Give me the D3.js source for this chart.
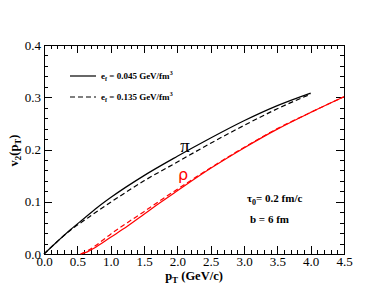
<!DOCTYPE html>
<html>
<head>
<meta charset="utf-8">
<script src="https://cdn.jsdelivr.net/npm/d3@7"></script>
<style>
  body { margin: 0; background: #fff; }
  svg text { font-family: "Liberation Serif", "Times New Roman", serif; }
</style>
</head>
<body>
<script>
// v2(pT) curves
var piPt     = [0.0, 0.2, 0.4, 0.6, 0.8, 1.0, 1.5, 2.0, 2.5, 3.0, 3.5, 4.0];
var piSolid  = [0.0, 0.024, 0.047, 0.068, 0.089, 0.108, 0.150, 0.187, 0.222, 0.255, 0.284, 0.308];
var piDashed = [0.0, 0.024, 0.046, 0.064, 0.082, 0.099, 0.140, 0.176, 0.212, 0.246, 0.278, 0.306];

var rhoPt     = [0.55, 0.65, 0.75, 1.0, 1.25, 1.5, 1.75, 2.0, 2.5, 3.0, 3.5, 4.0, 4.5];
var rhoSolid  = [0.0, 0.004, 0.011, 0.032, 0.053, 0.076, 0.099, 0.121, 0.164, 0.203, 0.239, 0.271, 0.301];
var rhoDashed = [0.0, 0.006, 0.014, 0.038, 0.060, 0.081, 0.103, 0.124, 0.165, 0.204, 0.240, 0.271, 0.301];

var xTicks = [0, 0.5, 1, 1.5, 2, 2.5, 3, 3.5, 4, 4.5];
var yTicks = [0, 0.1, 0.2, 0.3, 0.4];

var W = 387, H = 299,
    m = {left: 44, right: 43, top: 45, bottom: 45};

var svg = d3.select("body").append("svg")
    .attr("width", W).attr("height", H);

var x = d3.scaleLinear().domain([0, 4.5]).range([m.left, W - m.right]),
    y = d3.scaleLinear().domain([0, 0.4]).range([H - m.bottom, m.top]);

var xMinor = d3.range(0, 4.501, 0.1),
    yMinor = d3.range(0, 0.4001, 0.02);

function isMajor(v, step) {
  return Math.abs(v / step - Math.round(v / step)) < 1e-6;
}

// inward ticks on all four sides
var tg = svg.append("g").attr("stroke", "#000").attr("stroke-width", 1);
xMinor.forEach(function(v) {
  var len = isMajor(v, 0.5) ? 8 : 4, px = Math.round(x(v)) + 0.5;
  tg.append("line").attr("x1", px).attr("x2", px).attr("y1", y(0)).attr("y2", y(0) - len);
  tg.append("line").attr("x1", px).attr("x2", px).attr("y1", y(0.4)).attr("y2", y(0.4) + len);
});
yMinor.forEach(function(v) {
  var len = isMajor(v, 0.1) ? 8 : 4, py = Math.round(y(v)) + 0.5;
  tg.append("line").attr("y1", py).attr("y2", py).attr("x1", x(0)).attr("x2", x(0) + len);
  tg.append("line").attr("y1", py).attr("y2", py).attr("x1", x(4.5)).attr("x2", x(4.5) - len);
});

// tick labels
var gx = svg.append("g").attr("transform", "translate(0," + y(0) + ")")
    .call(d3.axisBottom(x).tickValues(xTicks).tickSize(0).tickPadding(3).tickFormat(d3.format(".1f")));
var gy = svg.append("g").attr("transform", "translate(" + x(0) + ",0)")
    .call(d3.axisLeft(y).tickValues(yTicks).tickSize(0).tickPadding(3).tickFormat(d3.format(".1f")));
[gx, gy].forEach(function(g) {
  g.select(".domain").remove();
  g.selectAll("text").attr("fill", "#000")
      .style("font-size", "13px")
      .style("font-family", "'Liberation Serif', serif");
});

svg.append("rect")
    .attr("x", Math.round(x(0)) + 0.5).attr("y", Math.round(y(0.4)) + 0.5)
    .attr("width", Math.round(x(4.5) - x(0))).attr("height", Math.round(y(0) - y(0.4)))
    .attr("fill", "none").attr("stroke", "#000");

var line = d3.line()
    .x(d => x(d[0])).y(d => y(d[1]))
    .curve(d3.curveMonotoneX);

var curves = [
  {pt: piPt, v: piSolid, color: "#000", dash: null},
  {pt: piPt, v: piDashed, color: "#000", dash: "5,3"},
  {pt: rhoPt, v: rhoSolid, color: "#ff0000", dash: null},
  {pt: rhoPt, v: rhoDashed, color: "#ff0000", dash: "5,3"}
];

svg.selectAll(".curve").data(curves).enter().append("path")
    .attr("class", "curve")
    .attr("d", c => line(d3.zip(c.pt, c.v)))
    .attr("fill", "none")
    .attr("stroke", c => c.color)
    .attr("stroke-width", 1.2)
    .attr("stroke-dasharray", c => c.dash);

// particle labels
svg.append("text").attr("x", 185).attr("y", 152)
    .attr("text-anchor", "middle").style("font-size", "19px").text("π");
svg.append("text").attr("x", 183).attr("y", 180)
    .attr("text-anchor", "middle").style("font-size", "16px")
    .style("font-family", "'DejaVu Sans', sans-serif").attr("fill", "#ff0000").text("ρ");

// legend
var legend = [
  {label: "0.045", dash: null},
  {label: "0.135", dash: "5,3"}
];
var lg = svg.selectAll(".leg").data(legend).enter().append("g")
    .attr("transform", (d, i) => "translate(70," + (76 + i * 21) + ")");
lg.append("line").attr("x1", 0).attr("x2", 26)
    .attr("stroke", "#000").attr("stroke-width", 1.2)
    .attr("stroke-dasharray", d => d.dash);
var lt = lg.append("text").attr("x", 31).attr("y", 3)
    .style("font-size", "9px").style("font-weight", "bold");
lt.append("tspan").text("e");
lt.append("tspan").attr("dy", 2).style("font-size", "6px").text("f");
lt.append("tspan").attr("dy", -2).text(d => " = " + d.label + " GeV/fm");
lt.append("tspan").attr("dy", -4).style("font-size", "6px").text("3");

// parameters
var t1 = svg.append("text").attr("x", 247).attr("y", 202)
    .style("font-size", "11px").style("font-weight", "bold");
t1.append("tspan").text("τ");
t1.append("tspan").attr("dy", 3).style("font-size", "8px").text("0");
t1.append("tspan").attr("dy", -3).text("= 0.2 fm/c");
svg.append("text").attr("x", 250).attr("y", 223)
    .style("font-size", "11px").style("font-weight", "bold").text("b = 6 fm");

// axis titles
var xt = svg.append("text").attr("x", (x(0) + x(4.5)) / 2).attr("y", 280)
    .attr("text-anchor", "middle").style("font-size", "12.5px").style("font-weight", "bold");
xt.append("tspan").text("p");
xt.append("tspan").attr("dy", 3).style("font-size", "9px").text("T");
xt.append("tspan").attr("dy", -3).text(" (GeV/c)");

var yt = svg.append("text")
    .attr("transform", "translate(18," + (y(0.2) + 1) + ") rotate(-90)")
    .attr("text-anchor", "middle").style("font-size", "12.5px").style("font-weight", "bold");
yt.append("tspan").text("v");
yt.append("tspan").attr("dy", 3).style("font-size", "9px").text("2");
yt.append("tspan").attr("dy", -3).text("(p");
yt.append("tspan").attr("dy", 3).style("font-size", "9px").text("T");
yt.append("tspan").attr("dy", -3).text(")");
</script>
</body>
</html>
